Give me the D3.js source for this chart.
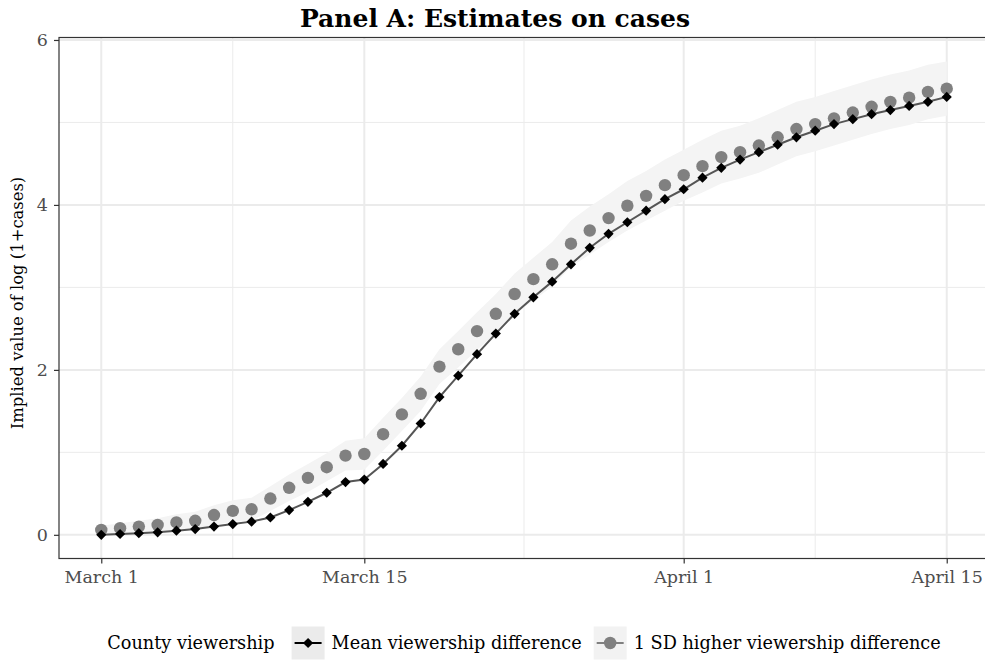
<!DOCTYPE html>
<html>
<head>
<meta charset="utf-8">
<script src="https://cdn.jsdelivr.net/npm/d3@7"></script>
<style>
	body { margin: 0; background: #fff; }
	text { font-family: "DejaVu Serif", serif; fill: #4d4d4d; }
</style>
</head>
<body>
<svg id="viz"></svg>
<script>
// values, one per day from March 1 to April 15
var meanDiff = [0.00, 0.01, 0.02, 0.03, 0.05, 0.07, 0.10, 0.13, 0.16, 0.21,
	0.30, 0.40, 0.51, 0.64, 0.67, 0.86, 1.08, 1.35, 1.67, 1.93,
	2.19, 2.44, 2.68, 2.88, 3.07, 3.28, 3.48, 3.65, 3.79, 3.93,
	4.07, 4.19, 4.33, 4.45, 4.55, 4.64, 4.73, 4.82, 4.90, 4.98,
	5.04, 5.10, 5.15, 5.20, 5.25, 5.31];
var sdDiff = [0.06, 0.08, 0.10, 0.12, 0.15, 0.17, 0.24, 0.29, 0.31, 0.44,
	0.57, 0.69, 0.82, 0.96, 0.98, 1.22, 1.46, 1.71, 2.04, 2.25,
	2.47, 2.68, 2.92, 3.10, 3.28, 3.53, 3.69, 3.84, 3.99, 4.11,
	4.24, 4.36, 4.47, 4.58, 4.64, 4.72, 4.82, 4.92, 4.98, 5.05,
	5.12, 5.19, 5.25, 5.30, 5.37, 5.41];
var sdLower = [0.01, 0.02, 0.03, 0.04, 0.05, 0.06, 0.12, 0.16, 0.17, 0.29,
	0.41, 0.52, 0.65, 0.78, 0.79, 1.02, 1.26, 1.50, 1.83, 2.03,
	2.24, 2.44, 2.67, 2.84, 3.01, 3.25, 3.40, 3.55, 3.69, 3.81,
	3.93, 4.05, 4.15, 4.26, 4.32, 4.39, 4.49, 4.59, 4.65, 4.72,
	4.79, 4.86, 4.92, 4.97, 5.04, 5.08];
var sdUpper = [0.11, 0.14, 0.17, 0.20, 0.25, 0.28, 0.36, 0.42, 0.45, 0.59,
	0.73, 0.86, 0.99, 1.14, 1.17, 1.42, 1.66, 1.92, 2.25, 2.47,
	2.70, 2.92, 3.17, 3.36, 3.55, 3.81, 3.98, 4.13, 4.29, 4.41,
	4.55, 4.67, 4.79, 4.90, 4.96, 5.05, 5.15, 5.25, 5.31, 5.38,
	5.45, 5.52, 5.58, 5.63, 5.70, 5.74];

var xTicks = [new Date(Date.UTC(2020, 2, 1)), new Date(Date.UTC(2020, 2, 15)),
	new Date(Date.UTC(2020, 3, 1)), new Date(Date.UTC(2020, 3, 15))];
var xTickLabels = ["March 1", "March 15", "April 1", "April 15"];
var xMinor = [new Date(Date.UTC(2020, 2, 8)), new Date(Date.UTC(2020, 2, 23, 12)),
	new Date(Date.UTC(2020, 3, 8))];
var yTicks = [0, 2, 4, 6];
var yMinor = [1, 3, 5];
var seriesNames = ["Mean viewership difference", "1 SD higher viewership difference"];

var dates = d3.utcDay.range(new Date(Date.UTC(2020, 2, 1)), new Date(Date.UTC(2020, 3, 16)));
var rows = dates.map(function(d, i) {
	return { date: d, mean: meanDiff[i], sd: sdDiff[i], lo: sdLower[i], hi: sdUpper[i] };
});

var W = 985, H = 664,
	panel = { left: 59, right: 989, top: 37.5, bottom: 558.5 };

var svg = d3.select('#viz').attr('width', W).attr('height', H);
svg.append('rect').attr('width', W).attr('height', H).attr('fill', '#fff');

var x = d3.scaleUtc()
	.domain([new Date(Date.UTC(2020, 1, 27, 18)), new Date(Date.UTC(2020, 3, 17, 6))])
	.range([panel.left, panel.right]);
var y = d3.scaleLinear()
	.domain([-0.287, 6.03])
	.range([panel.bottom, panel.top]);

// grid
var grid = svg.append('g');
grid.selectAll('.minx').data(xMinor).enter().append('line')
	.attr('x1', x).attr('x2', x).attr('y1', panel.top).attr('y2', panel.bottom)
	.attr('stroke', '#ebebeb').attr('stroke-width', 1);
grid.selectAll('.miny').data(yMinor).enter().append('line')
	.attr('y1', y).attr('y2', y).attr('x1', panel.left).attr('x2', panel.right)
	.attr('stroke', '#ebebeb').attr('stroke-width', 1);
grid.selectAll('.majx').data(xTicks).enter().append('line')
	.attr('x1', x).attr('x2', x).attr('y1', panel.top).attr('y2', panel.bottom)
	.attr('stroke', '#ebebeb').attr('stroke-width', 2);
grid.selectAll('.majy').data(yTicks).enter().append('line')
	.attr('y1', y).attr('y2', y).attr('x1', panel.left).attr('x2', panel.right)
	.attr('stroke', '#ebebeb').attr('stroke-width', 2);

// ribbon
svg.append('path')
	.datum(rows)
	.attr('fill', '#f4f4f4')
	.attr('d', d3.area()
		.x(function(d) { return x(d.date); })
		.y0(function(d) { return y(d.lo); })
		.y1(function(d) { return y(d.hi); }));

// mean line
svg.append('path')
	.datum(rows)
	.attr('fill', 'none')
	.attr('stroke', '#555')
	.attr('stroke-width', 2)
	.attr('d', d3.line()
		.x(function(d) { return x(d.date); })
		.y(function(d) { return y(d.mean); }));

var diamond = d3.symbol().type(d3.symbolSquare).size(52);

svg.selectAll('.sdpt').data(rows).enter().append('circle')
	.attr('cx', function(d) { return x(d.date); })
	.attr('cy', function(d) { return y(d.sd); })
	.attr('r', 6.2)
	.attr('fill', '#808080');

svg.selectAll('.meanpt').data(rows).enter().append('path')
	.attr('d', diamond)
	.attr('transform', function(d) {
		return 'translate(' + x(d.date) + ',' + y(d.mean) + ') rotate(45)';
	})
	.attr('fill', '#000');

// border
svg.append('rect')
	.attr('x', panel.left).attr('y', panel.top)
	.attr('width', panel.right - panel.left).attr('height', panel.bottom - panel.top)
	.attr('fill', 'none').attr('stroke', '#333').attr('stroke-width', 1.2);

// axes
var xAxis = svg.append('g')
	.attr('transform', 'translate(0,' + panel.bottom + ')')
	.call(d3.axisBottom(x).tickValues(xTicks).tickSize(5).tickPadding(7)
		.tickFormat(function(d, i) { return xTickLabels[i]; }));
var yAxis = svg.append('g')
	.attr('transform', 'translate(' + panel.left + ',0)')
	.call(d3.axisLeft(y).tickValues(yTicks).tickSize(5).tickPadding(6)
		.tickFormat(d3.format('d')));
[xAxis, yAxis].forEach(function(a) {
	a.select('.domain').remove();
	a.selectAll('line').attr('stroke', '#333').attr('stroke-width', 1.2);
	a.selectAll('text').attr('font-family', '"DejaVu Serif", serif')
		.attr('font-size', 17.5).attr('fill', '#4d4d4d');
});

// titles
svg.append('text')
	.attr('x', 495).attr('y', 27)
	.attr('text-anchor', 'middle')
	.attr('font-size', 25).attr('font-weight', 'bold')
	.style('fill', '#000')
	.text('Panel A: Estimates on cases');

svg.append('text')
	.attr('transform', 'translate(23,' + ((panel.top + panel.bottom) / 2 + 5) + ') rotate(-90)')
	.attr('text-anchor', 'middle')
	.attr('font-size', 16.4)
	.style('fill', '#000')
	.text('Implied value of log (1+cases)');

// legend
var leg = svg.append('g');
var legY = 643, keyW = 33, keyH = 33, legFont = 17.7;
var lt = leg.append('text').attr('y', legY).attr('dy', '0.35em')
	.attr('font-size', legFont).style('fill', '#000').text('County viewership');
var t1 = leg.append('text').attr('y', legY).attr('dy', '0.35em')
	.attr('font-size', legFont).style('fill', '#000').text(seriesNames[0]);
var t2 = leg.append('text').attr('y', legY).attr('dy', '0.35em')
	.attr('font-size', legFont).style('fill', '#000').text(seriesNames[1]);

var w0 = lt.node().getComputedTextLength(),
	w1 = t1.node().getComputedTextLength(),
	w2 = t2.node().getComputedTextLength();
var total = w0 + 17 + keyW + 7 + w1 + 12 + keyW + 7 + w2;
var lx = 524 - total / 2;
lt.attr('x', lx);
var k1 = lx + w0 + 17;
t1.attr('x', k1 + keyW + 7);
var k2 = k1 + keyW + 7 + w1 + 12;
t2.attr('x', k2 + keyW + 7);

leg.append('rect').attr('x', k1).attr('y', legY - keyH / 2)
	.attr('width', keyW).attr('height', keyH).attr('fill', '#ebebeb');
leg.append('line').attr('x1', k1 + 3).attr('x2', k1 + keyW - 3)
	.attr('y1', legY).attr('y2', legY).attr('stroke', '#000').attr('stroke-width', 2);
leg.append('path').attr('d', diamond)
	.attr('transform', 'translate(' + (k1 + keyW / 2) + ',' + legY + ') rotate(45)')
	.attr('fill', '#000');

leg.append('rect').attr('x', k2).attr('y', legY - keyH / 2)
	.attr('width', keyW).attr('height', keyH).attr('fill', '#f2f2f2');
leg.append('line').attr('x1', k2 + 3).attr('x2', k2 + keyW - 3)
	.attr('y1', legY).attr('y2', legY).attr('stroke', '#808080').attr('stroke-width', 2);
leg.append('circle').attr('cx', k2 + keyW / 2).attr('cy', legY).attr('r', 6.2)
	.attr('fill', '#808080');
</script>
</body>
</html>
